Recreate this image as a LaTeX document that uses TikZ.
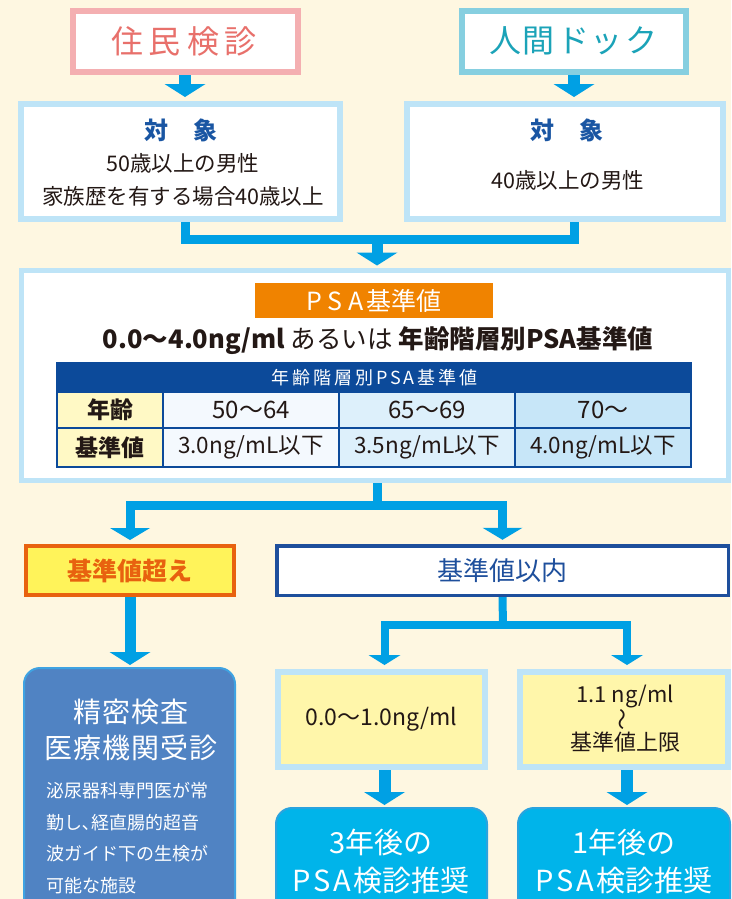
\documentclass[tikz,border=0pt]{standalone}
\usepackage{fontspec}
\setmainfont{Noto Sans CJK JP}
\usepackage{graphicx}
\usetikzlibrary{arrows.meta}
\definecolor{bgc}{HTML}{FEF7E1}
\definecolor{pinkb}{HTML}{F4AFB1}
\definecolor{pinkt}{HTML}{E8706B}
\definecolor{tealb}{HTML}{86CFE0}
\definecolor{tealt}{HTML}{1BA3B8}
\definecolor{lblue}{HTML}{BEE4F7}
\definecolor{arrowc}{HTML}{00A0E4}
\definecolor{navyt}{HTML}{1A56A3}
\definecolor{orng}{HTML}{F08300}
\definecolor{tnavy}{HTML}{0C4A9A}
\definecolor{ycell}{HTML}{FFF9C5}
\definecolor{cella}{HTML}{F4F9FE}
\definecolor{cellb}{HTML}{DDF0FB}
\definecolor{cellc}{HTML}{C7E6F8}
\definecolor{ovfill}{HTML}{FFF35A}
\definecolor{ovline}{HTML}{E8620F}
\definecolor{wnavy}{HTML}{1E4F9C}
\definecolor{detfill}{HTML}{5083C3}
\definecolor{detline}{HTML}{3FA3E2}
\definecolor{yfill}{HTML}{FFF6AA}
\definecolor{cyfill}{HTML}{00B4EA}
\definecolor{cyline}{HTML}{2AA3DE}
\definecolor{txt}{HTML}{231815}
\newcommand{\fsz}[1]{\fontsize{#1}{#1}\selectfont}
\pgfdeclarelayer{bglayer}
\pgfsetlayers{bglayer,main}
\tikzset{
  every node/.style={inner sep=0pt, outer sep=0pt, text=txt},
  frame/.style={draw, rectangle, align=center},
  cellbox/.style={draw=tnavy, line width=1.5pt, rectangle, minimum height=#1},
  conn/.style={draw=arrowc, line width=9pt},
  bigarrow/.style={draw=arrowc, line width=12pt, -{Triangle[width=41pt,length=13pt,line width=0pt]}},
  twoarrow/.style={draw=arrowc, line width=9pt, {Triangle[width=40pt,length=12pt,line width=0pt]}-{Triangle[width=40pt,length=12pt,line width=0pt]}},
  twosmall/.style={draw=arrowc, line width=8pt, {Triangle[width=32pt,length=10pt,line width=0pt]}-{Triangle[width=32pt,length=10pt,line width=0pt]}},
}
\begin{document}
\begin{tikzpicture}[x=1pt,y=-1pt]
\useasboundingbox (0,0) rectangle (731,899);
\clip (0,0) rectangle (731,899);
\begin{pgfonlayer}{bglayer}
\fill[bgc] (0,0) rectangle (731,899);
\end{pgfonlayer}

% top boxes
\node[frame, draw=pinkb, fill=white, line width=6pt, minimum width=225pt, minimum height=61pt] (jumin) at (185,41.5) {};
\node[text=pinkt] (jumint) at (184,41) {\fsz{32}住\hspace{6pt}民\hspace{6pt}検\hspace{6pt}診};
\node[frame, draw=tealb, fill=white, line width=6pt, minimum width=224pt, minimum height=61pt] (ningen) at (574,41.5) {};
\node[text=tealt] (ningent) at (573,41) {\fsz{32}人\hspace{2pt}間\hspace{2pt}ド\hspace{2pt}ッ\hspace{2pt}ク};

% target boxes
\node[frame, draw=lblue, fill=white, line width=6pt, minimum width=319pt, minimum height=115pt] (objL) at (180.5,161.5) {};
\node[text=navyt] (objLh) at (181,130) {\fsz{24}\bfseries 対\hspace{26pt}象};
\node (objL1) at (183,163) {\fsz{21.5}50歳以上の男性};
\node (objL2) at (183,196) {\fsz{21.5}家族歴を有する場合40歳以上};
\node[frame, draw=lblue, fill=white, line width=6pt, minimum width=316pt, minimum height=115pt] (objR) at (565,161.5) {};
\node[text=navyt] (objRh) at (567,130) {\fsz{24}\bfseries 対\hspace{26pt}象};
\node (objR1) at (568,180) {\fsz{21.5}40歳以上の男性};

% PSA box
\node[frame, draw=lblue, fill=white, line width=5pt, minimum width=707pt, minimum height=210pt] (psa) at (375,375.5) {};
\node[fill=orng, minimum width=238pt, minimum height=35pt, text=white] (psal) at (374,300.5) {\fsz{25}P\hspace{6pt}S\hspace{6pt}A\hspace{3pt}基準値};
\node (psaline) at (378,341) {\fsz{25.5}\bfseries 0.0～4.0ng/ml \mdseries あるいは \bfseries 年齢階層別PSA基準値};

% table
\node[fill=tnavy, minimum width=635pt, minimum height=29pt, text=white] (thead) at (374.5,377.5) {\fsz{18}年\hspace{3pt}齢\hspace{3pt}階\hspace{3pt}層\hspace{3pt}別\hspace{3pt}P\hspace{2pt}S\hspace{2pt}A\hspace{3pt}基\hspace{3pt}準\hspace{3pt}値};
\node[cellbox=36pt, fill=ycell, minimum width=106pt] (c11) at (110,410) {\fsz{23}\bfseries 年齢};
\node[cellbox=36pt, fill=cella, minimum width=176pt] (c12) at (251,410) {\fsz{24}50～64};
\node[cellbox=36pt, fill=cellb, minimum width=176pt] (c13) at (427,410) {\fsz{24}65～69};
\node[cellbox=36pt, fill=cellc, minimum width=176pt] (c14) at (603,410) {\fsz{24}70～};
\node[cellbox=39pt, fill=ycell, minimum width=106pt] (c21) at (110,447.5) {\fsz{23}\bfseries 基準値};
\node[cellbox=39pt, fill=cella, minimum width=176pt] (c22) at (251,447.5) {\fsz{22.5}3.0ng/mL以下};
\node[cellbox=39pt, fill=cellb, minimum width=176pt] (c23) at (427,447.5) {\fsz{22.5}3.5ng/mL以下};
\node[cellbox=39pt, fill=cellc, minimum width=176pt] (c24) at (603,447.5) {\fsz{22.5}4.0ng/mL以下};
\draw[tnavy, line width=2.5pt] (thead.north west) rectangle (c24.south east);

% decision boxes
\node[frame, draw=ovline, fill=ovfill, line width=4pt, minimum width=208pt, minimum height=49pt, text=ovline] (over) at (130,570.5) {\fsz{25}\bfseries 基準値超え};
\node[frame, draw=wnavy, fill=white, line width=3.5pt, minimum width=451.5pt, minimum height=49.5pt, text=wnavy] (within) at (502.5,570.5) {\fsz{26}基準値以内};

% detail box
\node[frame, draw=detline, fill=detfill, line width=2pt, rounded corners=16pt, minimum width=211pt, minimum height=260pt] (detail) at (129.5,798) {};
\node[text=white] (det1) at (131,712) {\fsz{28}精\hspace{1pt}密\hspace{1pt}検\hspace{1pt}査};
\node[text=white] (det2) at (131,748) {\fsz{28}医\hspace{1pt}療\hspace{1pt}機\hspace{1pt}関\hspace{1pt}受\hspace{1pt}診};
\node[text=white, anchor=west, align=left, font=\fontsize{18}{31.5}\selectfont] (det3) at (46,838) {泌尿器科専門医が常\\勤し､経直腸的超音\\波ガイド下の生検が\\可能な施設};

% yellow boxes
\node[frame, draw=lblue, fill=yfill, line width=6pt, minimum width=207pt, minimum height=95pt] (yel1) at (381.5,719.5) {\fsz{23}0.0～1.0ng/ml};
\node[frame, draw=lblue, fill=yfill, line width=6pt, minimum width=208pt, minimum height=95pt] (yel2) at (624,719.5) {};
\node (yel2a) at (625,696) {\fsz{22}1.1 ng/ml};
\node (yel2b) at (625,719) {\fsz{22}\rotatebox{90}{～}};
\node (yel2c) at (625,742) {\fsz{22}基準値上限};

% cyan boxes
\node[frame, draw=cyline, fill=cyfill, line width=2pt, rounded corners=16pt, minimum width=211pt, minimum height=140pt] (cy1) at (381.5,878) {};
\node[text=white] (cy1a) at (381,842) {\fsz{29}3年後の};
\node[text=white] (cy1b) at (381,881) {\fsz{29}P\hspace{3pt}S\hspace{3pt}A\hspace{2pt}検診推奨};
\node[frame, draw=cyline, fill=cyfill, line width=2pt, rounded corners=16pt, minimum width=212pt, minimum height=140pt] (cy2) at (624,878) {};
\node[text=white] (cy2a) at (624,842) {\fsz{29}1年後の};
\node[text=white] (cy2b) at (624,881) {\fsz{29}P\hspace{3pt}S\hspace{3pt}A\hspace{2pt}検診推奨};

% connectors
\coordinate (m1) at (377,239);
\coordinate (m2) at (377,505);
\coordinate (m3) at (503,625);
\begin{pgfonlayer}{bglayer}
\draw[bigarrow, shorten >=7pt] (jumin.south) -- (jumin.south |- objL.north);
\draw[bigarrow, shorten >=7pt] (ningen.south) -- (ningen.south |- objR.north);
\draw[conn] (jumin.south |- objL.south) |- (m1) -| (ningen.south |- objR.south);
\draw[bigarrow, line width=11pt, shorten >=5pt] ([yshift=4pt]m1) -- (m1 |- psa.north);
\draw[conn] (m1 |- psa.south) -- ([yshift=-3pt]m2);
\draw[twoarrow, shorten <=6pt, shorten >=6pt] (over.north) |- (m2) -| (within.north);
\draw[bigarrow, line width=11pt, shorten >=3pt] (over.south) -- (over.south |- detail.north);
\draw[conn, line width=8pt] (within.south) -- ([yshift=-3pt]m3);
\draw[twosmall, shorten <=7pt, shorten >=7pt] ([xshift=3pt]yel1.north) |- (m3) -| ([xshift=3pt]yel2.north);
\draw[bigarrow, shorten >=3pt] ([xshift=3pt]yel1.south) -- ([xshift=3pt]yel1.south |- cy1.north);
\draw[bigarrow, shorten >=3pt] ([xshift=3pt]yel2.south) -- ([xshift=3pt]yel2.south |- cy2.north);
\end{pgfonlayer}
\end{tikzpicture}
\end{document}
